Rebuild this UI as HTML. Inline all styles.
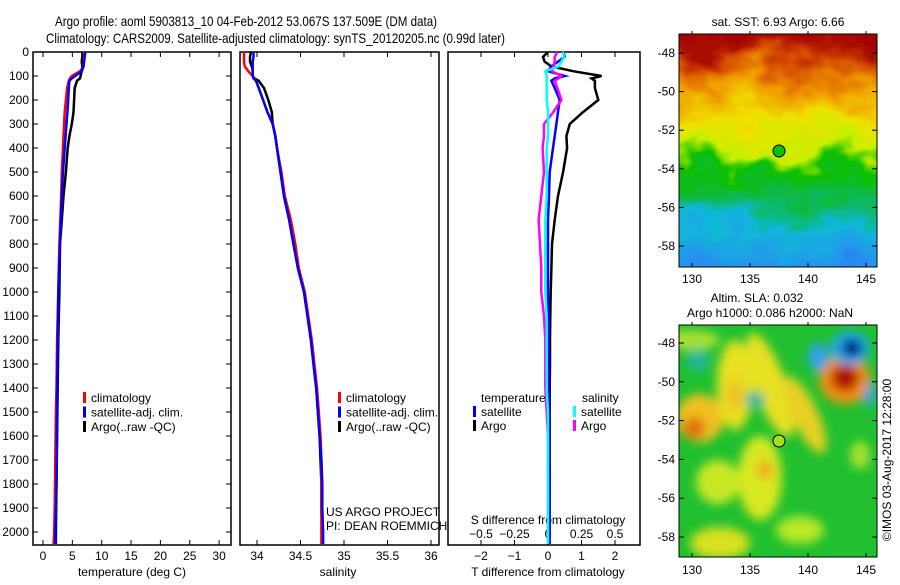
<!DOCTYPE html>
<html><head><meta charset="utf-8"><style>
html,body{margin:0;padding:0;background:#fff}
svg text{font-family:"Liberation Sans",sans-serif;fill:#000}
</style></head><body>
<svg id="chart" width="900" height="580" viewBox="0 0 900 580" xmlns="http://www.w3.org/2000/svg">
<defs>
<linearGradient id="sstg" x1="0" y1="0" x2="0" y2="1">
<stop offset="0" stop-color="#a00000"/><stop offset="0.14" stop-color="#a80800"/>
<stop offset="0.22" stop-color="#d85000"/><stop offset="0.3" stop-color="#f0a000"/>
<stop offset="0.4" stop-color="#f0e000"/><stop offset="0.5" stop-color="#c8f000"/>
<stop offset="0.56" stop-color="#10c000"/><stop offset="0.66" stop-color="#10b850"/>
<stop offset="0.76" stop-color="#10b8d8"/><stop offset="0.9" stop-color="#2890f0"/>
<stop offset="1" stop-color="#2070e0"/>
</linearGradient>
<filter id="turb" x="-10%" y="-10%" width="120%" height="120%">
<feTurbulence type="fractalNoise" baseFrequency="0.022 0.03" numOctaves="3" seed="7"/>
<feDisplacementMap in="SourceGraphic" scale="70" xChannelSelector="R" yChannelSelector="G"/>
</filter>
<filter id="blur"><feGaussianBlur stdDeviation="5"/></filter>
<clipPath id="clip1"><rect x="679" y="34" width="198" height="233"/></clipPath>
<clipPath id="clip2"><rect x="679" y="325" width="198" height="232"/></clipPath>
</defs>
<text x="55" y="26" font-size="14" textLength="382" lengthAdjust="spacingAndGlyphs">Argo profile: aoml 5903813_10 04-Feb-2012 53.067S 137.509E (DM data)</text>
<text x="46" y="43" font-size="14" textLength="459" lengthAdjust="spacingAndGlyphs">Climatology: CARS2009. Satellite-adjusted climatology: synTS_20120205.nc (0.99d later)</text>
<g id="panels"></g>
<!-- SST map -->
<g clip-path="url(#clip1)">
<rect x="650" y="0" width="260" height="300" fill="url(#sstg)" filter="url(#turb)"/>
</g>
<rect x="679" y="34" width="198" height="233" fill="none" stroke="#000"/>
<circle cx="779" cy="151" r="6" fill="#10c000" stroke="#000"/>
<text x="778" y="26" font-size="12" text-anchor="middle">sat. SST: 6.93 Argo: 6.66</text>
<!-- SLA map -->
<g clip-path="url(#clip2)">
<rect x="679" y="325" width="198" height="232" fill="#20c030"/>
<g filter="url(#blur)">
<ellipse cx="690" cy="340" rx="30" ry="10" fill="#a8e030"/>
<ellipse cx="700" cy="418" rx="24" ry="24" fill="#f0c020"/>
<ellipse cx="694" cy="428" rx="11" ry="11" fill="#e07010"/>
<ellipse cx="735" cy="385" rx="18" ry="45" fill="#e8e020"/>
<ellipse cx="735" cy="395" rx="8" ry="15" fill="#f0c020"/>
<ellipse cx="770" cy="385" rx="16" ry="55" fill="#e8e020" transform="rotate(-20 770 385)"/>
<ellipse cx="805" cy="415" rx="13" ry="42" fill="#e8d020" transform="rotate(-25 805 415)"/>
<ellipse cx="760" cy="478" rx="22" ry="42" fill="#d8e820"/>
<ellipse cx="765" cy="470" rx="7" ry="9" fill="#f0a020"/>
<ellipse cx="718" cy="482" rx="22" ry="22" fill="#c8e828"/>
<ellipse cx="720" cy="543" rx="30" ry="16" fill="#d8e020"/>
<ellipse cx="800" cy="530" rx="24" ry="14" fill="#b8e828"/>
<ellipse cx="860" cy="455" rx="10" ry="14" fill="#a8e030"/>
<ellipse cx="845" cy="380" rx="26" ry="24" fill="#f09010"/>
<ellipse cx="845" cy="378" rx="14" ry="13" fill="#b01000"/>
<ellipse cx="850" cy="348" rx="20" ry="17" fill="#20a8e8"/>
<ellipse cx="852" cy="348" rx="10" ry="9" fill="#001080"/>
<ellipse cx="818" cy="357" rx="10" ry="14" fill="#30a0f0"/>
<ellipse cx="698" cy="360" rx="11" ry="11" fill="#20b8a0"/>
<ellipse cx="755" cy="400" rx="10" ry="8" fill="#20b8a0"/>
<ellipse cx="870" cy="395" rx="5" ry="12" fill="#30a0f0"/>
</g>
</g>
<rect x="679" y="325" width="198" height="232" fill="none" stroke="#000"/>
<circle cx="779" cy="441" r="6" fill="#a0e020" stroke="#000"/>
<text x="757" y="302" font-size="12" text-anchor="middle">Altim. SLA: 0.032</text>
<text x="770" y="317" font-size="12" text-anchor="middle">Argo h1000: 0.086 h2000: NaN</text>
<text x="0" y="0" font-size="12" text-anchor="middle" transform="translate(891,460) rotate(-90)">©IMOS 03-Aug-2017 12:28:00</text>
<g id="maps"></g>
</svg>
<script>
// ---- data ----
const depths = [0,20,40,60,80,100,110,120,150,200,250,300,350,400,500,600,700,800,900,1000,1100,1200,1300,1400,1500,1600,1700,1800,1900,2000,2050];
const tempClim = [7.0,7.0,6.95,6.9,6.3,4.9,4.6,4.4,4.1,3.9,3.7,3.6,3.5,3.4,3.2,3.1,2.95,2.8,2.7,2.6,2.5,2.4,2.35,2.3,2.2,2.15,2.1,2.05,2.0,1.9,1.8];
const tempSat = [7.2,7.1,7.0,6.9,6.6,5.5,4.9,4.5,4.4,4.3,4.15,4.0,3.85,3.7,3.4,3.2,3.05,2.9,2.75,2.6,2.55,2.5,2.45,2.4,2.4,2.35,2.35,2.3,2.2,2.1,2.1];
const tempArgo = [6.7,6.7,6.6,6.7,6.6,6.4,6.3,5.8,5.4,5.3,5.2,4.9,4.5,4.2,3.9,3.5,3.2,2.9,2.85,2.8,2.7,2.6,2.55,2.5,2.45,2.4,2.35,2.3,2.25,2.2,2.2];
const salClim = [33.85,33.85,33.85,33.86,33.9,33.95,33.97,33.99,34.02,34.07,34.12,34.18,34.21,34.23,34.28,34.32,34.39,34.44,34.48,34.55,34.59,34.63,34.66,34.69,34.71,34.73,34.74,34.74,34.74,34.74,34.74];
const salSat = [33.96,33.96,33.95,33.95,33.95,33.95,33.96,33.99,34.02,34.07,34.12,34.18,34.21,34.23,34.27,34.31,34.37,34.42,34.47,34.54,34.58,34.62,34.65,34.68,34.70,34.72,34.74,34.75,34.75,34.76,34.76];
const salArgo = [33.93,33.92,33.92,33.94,33.95,33.95,33.97,34.02,34.08,34.13,34.17,34.18,34.21,34.23,34.27,34.31,34.37,34.42,34.47,34.54,34.58,34.62,34.65,34.68,34.70,34.72,34.73,34.74,34.74,34.75,34.75];
const dTempSat = [0.45,0.5,0.3,0.1,0.0,0.5,0.2,0.1,0.2,0.35,0.3,0.25,0.2,0.15,0.05,0.03,0.0,0.0,0.0,0.0,0.02,0.02,0.03,0.03,0.03,0.04,0.04,0.05,0.05,0.05,0.05];
const dTempArgo = [0.0,-0.15,-0.1,0.1,0.75,1.6,1.3,1.4,1.4,1.5,1.05,0.65,0.55,0.57,0.45,0.3,0.2,0.12,0.1,0.08,0.07,0.06,0.06,0.05,0.05,0.05,0.05,0.05,0.04,0.04,0.04];
const dSalSat = [0.11,0.12,0.1,0.08,-0.02,-0.01,-0.01,-0.01,-0.01,-0.01,0.0,0.0,0.0,-0.01,-0.01,-0.01,-0.02,-0.02,-0.02,-0.02,-0.01,-0.01,-0.01,-0.01,0.0,0.0,0.0,0.0,0.0,0.0,0.0];
const dSalArgo = [0.07,0.05,0.05,0.04,0.03,0.1,0.08,0.05,0.07,0.1,0.04,-0.03,-0.03,-0.04,-0.03,-0.05,-0.07,-0.06,-0.05,-0.05,-0.03,-0.02,-0.02,-0.02,-0.01,0.0,0.0,0.0,0.0,0.0,0.0];
const depthTicks = [0,100,200,300,400,500,600,700,800,900,1000,1100,1200,1300,1400,1500,1600,1700,1800,1900,2000];
const tempTicks = [0,5,10,15,20,25,30];
const salTicks = [34,34.5,35,35.5,36];
const salTickLabels = ["34","34.5","35","35.5","36"];
const dTTicks = [-2,-1,0,1,2];
const dSTicks = [-0.5,-0.25,0,0.25,0.5];
const dSTickLabels = ["\u22120.5","\u22120.25","0","0.25","0.5"];
const latTicks = [-48,-50,-52,-54,-56,-58];
const lonTicks = [130,135,140,145];

// ---- axes ----
const NS='http://www.w3.org/2000/svg';
const svg=document.getElementById('chart');
const g=document.getElementById('panels');
const gm=document.getElementById('maps');
const top0=52, bot=545;
const yD = d => 52 + d*0.24;
const xT = t => 43 + t*5.87;
const xS = s => 257 + (s-34)*87;
const xDT = v => 548 + v*33.5;
const xDS = v => 548 + v*134;
function el(tag,attrs,parent){const e=document.createElementNS(NS,tag);for(const k in attrs)e.setAttribute(k,attrs[k]);(parent||g).appendChild(e);return e;}
function txt(x,y,s,size,anchor,parent){const t=el('text',{x:x,y:y,'font-size':size,'text-anchor':anchor||'start'},parent);t.textContent=s;return t;}

const panels=[[33,231],[240,439],[448,640]];
panels.forEach((p,i)=>{
  const r=el('rect',{x:p[0],y:top0,width:p[1]-p[0],height:bot-top0,fill:'none',stroke:'#000','stroke-width':1.5});
  
  
});
depthTicks.forEach(d=>{
  const y=yD(d);
  el('line',{x1:33,x2:38,y1:y,y2:y,stroke:'#000'});
  el('line',{x1:226,x2:231,y1:y,y2:y,stroke:'#000'});
  const t=txt(29,y+4,String(d),12,'end');
  
  
});
function xticks(vals,labels,fx,ly){
  vals.forEach((v,i)=>{const x=fx(v);
    el('line',{x1:x,x2:x,y1:bot,y2:bot-5,stroke:'#000'});
    el('line',{x1:x,x2:x,y1:top0,y2:top0+5,stroke:'#000'});
    const t=txt(x,ly,labels[i],12,'middle');
    
    
  });
}
xticks(tempTicks,tempTicks.map(String),xT,560);
xticks(salTicks,salTickLabels,xS,560);
xticks(dTTicks,dTTicks.map(v=>v<0?'\u2212'+(-v):String(v)),xDT,560);
dSTicks.forEach((v,i)=>{const t=txt(xDS(v),538,dSTickLabels[i],12,'middle');
  
  });

let t;
t=txt(132,576,'temperature (deg C)',12,'middle');


t=txt(338,576,'salinity',12,'middle');


t=txt(548,576,'T difference from climatology',12,'middle');


t=txt(548,524,'S difference from climatology',12,'middle');


t=txt(326,516,'US ARGO PROJECT',12);


t=txt(326,530,'PI: DEAN ROEMMICH',12);



function series(vals,fx,color,name){
  const pts=vals.map((v,i)=>fx(v).toFixed(1)+','+yD(depths[i]).toFixed(1)).join(' ');
  const pl=el('polyline',{points:pts,fill:'none',stroke:color,'stroke-width':2.5});
  
  
}
series(tempArgo,xT,'#000','temp-argo-line');
series(tempClim,xT,'#f00','temp-climatology-line');
series(tempSat,xT,'#00f','temp-satellite-line');
series(salArgo,xS,'#000','sal-argo-line');
series(salClim,xS,'#f00','sal-climatology-line');
series(salSat,xS,'#00f','sal-satellite-line');
series(dTempArgo,xDT,'#000','dtemp-argo-line');
series(dTempSat,xDT,'#00f','dtemp-satellite-line');
series(dSalArgo,xDS,'#f0f','dsal-argo-line');
series(dSalSat,xDS,'#0ff','dsal-satellite-line');

function legend(x,y,color,label,name){
  const r=el('rect',{x:x,y:y-6,width:3,height:11,fill:color});
  
  
  const tt=txt(x+8,y+4,label,12);
  
  
}
[[83,'#f00','climatology'],[83,'#00f','satellite-adj. clim.'],[83,'#000','Argo(..raw -QC)']].forEach((l,i)=>legend(l[0],398+i*14.5,l[1],l[2],'temp-legend-entry'));
[[338,'#f00','climatology'],[338,'#00f','satellite-adj. clim.'],[338,'#000','Argo(..raw -QC)']].forEach((l,i)=>legend(l[0],398+i*14.5,l[1],l[2],'sal-legend-entry'));
t=txt(481,402,'temperature',12);


t=txt(582,402,'salinity',12);


legend(473,412,'#00f','satellite','diff-legend-temp-satellite');
legend(473,426,'#000','Argo','diff-legend-temp-argo');
legend(573,412,'#0ff','satellite','diff-legend-sal-satellite');
legend(573,426,'#f0f','Argo','diff-legend-sal-argo');

const lonX = l => 692 + (l-130)*11.6;
[[53,19.3,283],[343,19.4,574]].forEach((m,mi)=>{
  latTicks.forEach(la=>{const y=m[0]+(-48-la)*m[1];
    el('line',{x1:679,x2:684,y1:y,y2:y,stroke:'#000'},gm);
    el('line',{x1:872,x2:877,y1:y,y2:y,stroke:'#000'},gm);
    const tt=txt(675,y+4,la<0?'-'+(-la):String(la),12,'end',gm);
    
    
  });
  lonTicks.forEach(lo=>{const x=lonX(lo);
    const y0=mi==0?34:325, y1=mi==0?267:557;
    el('line',{x1:x,x2:x,y1:y0-3,y2:y0,stroke:'#000'},gm);
    el('line',{x1:x,x2:x,y1:y1,y2:y1-4,stroke:'#000'},gm);
    const tt=txt(x,m[2],String(lo),12,'middle',gm);
    
    
  });
});
</script>
</body></html>
